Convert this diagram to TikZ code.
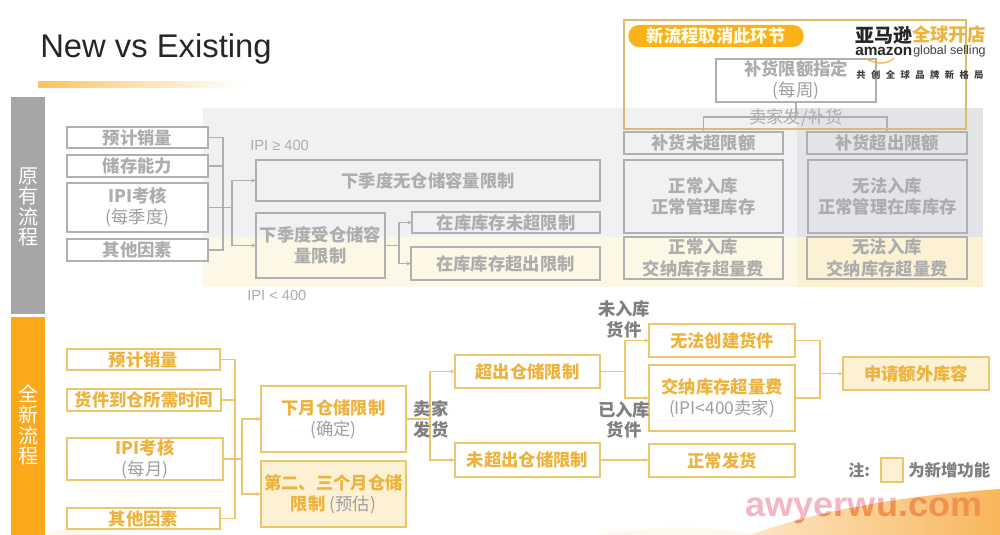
\documentclass[tikz,border=0pt]{standalone}
\usepackage{fontspec}
\usetikzlibrary{arrows.meta}
\setmainfont{Noto Sans CJK SC}
\newfontfamily\latinfont{Liberation Sans}
\definecolor{gtx}{HTML}{ADADAD}
\definecolor{gln}{HTML}{B0B0B0}
\definecolor{ytx}{HTML}{EDB33C}
\definecolor{yln}{HTML}{EBC66A}
\definecolor{yfl}{HTML}{FDF1D3}
\definecolor{obar}{HTML}{FBA91B}
\definecolor{gbar}{HTML}{A6A6A6}
\definecolor{dtx}{HTML}{7F7F7F}
\definecolor{paren}{HTML}{9F9F9F}
\definecolor{creamy}{HTML}{FDF7E6}
\definecolor{ovg}{HTML}{F0F1F2}
\definecolor{ovd}{HTML}{E3E4E8}
\definecolor{wmpink}{HTML}{F5B5C2}
\definecolor{wmorange}{HTML}{F0924C}
\definecolor{blobl}{HTML}{FDE6C4}
\definecolor{blobr}{HTML}{F8B65A}
\tikzset{
  x=0.75pt,y=-0.75pt,
  boxbase/.style={draw,line width=1pt,inner sep=0pt,outer sep=0pt,align=center,
    font=\fontsize{13}{16}\selectfont\bfseries},
  gbox/.style={boxbase,draw=gln,text=gtx},
  ybox/.style={boxbase,draw=yln,text=ytx},
  yfbox/.style={ybox,fill=yfl},
  glabel/.style={inner sep=0pt,font=\fontsize{13}{15.5}\selectfont\bfseries,text=dtx,align=center},
  ipilab/.style={inner sep=0pt,font=\latinfont\fontsize{11}{13}\selectfont,text=gtx},
  sidetx/.style={inner sep=0pt,text=white,align=center,font=\fontsize{15}{15.4}\selectfont},
  gline/.style={draw=gln,line width=0.9pt},
  yline/.style={draw=yln,line width=1.1pt},
  garrow/.style={gline,-{Stealth[length=3.5pt,width=3pt]}},
  yarrow/.style={yline,-{Stealth[length=3.5pt,width=3pt]}},
  wmark/.style={inner sep=0pt,anchor=base,font=\fontsize{26}{28}\selectfont\latinfont\bfseries,xscale=1.04},
}
\newcommand{\bx}[7]{\node[#1,minimum width={(#5-#3)*0.75pt},minimum height={(#6-#4)*0.75pt}] (#2) at ({(#3+#5)/2},{(#4+#6)/2}) {#7};}
\newcommand{\pn}[1]{{\mdseries\color{paren}#1}}
\begin{document}
\begin{tikzpicture}
\useasboundingbox (0,0) rectangle (1000,535);
% backgrounds
\fill[white] (0,0) rectangle (1000,535);
\shade[left color=creamy,right color=white] (45,535) .. controls (70,522) and (100,528) .. (140,535) -- cycle;
\fill[creamy!70!white] (600,535) .. controls (640,527) and (700,524) .. (760,535) -- cycle;
\fill[ovg] (203,108) rectangle (983,237);
\fill[ovd] (797,108) rectangle (983,237);
\fill[creamy] (203,237) rectangle (983,287);
\fill[yfl] (797,237) rectangle (983,287);
% title
\node[inner sep=0pt,anchor=base west,font=\latinfont\fontsize{24.6}{30}\selectfont,text=black!85] (title) at (40,58) {New vs Existing};
\shade[left color=obar!70!white,right color=white] (38,82) rectangle (242,88);
% side bars
\bx{draw=none,fill=gbar,inner sep=0pt}{sg}{11}{97}{45}{314}{}
\bx{draw=none,fill=obar,inner sep=0pt}{so}{11}{317}{45}{535}{}
\node[sidetx] (sgt) at (28,207) {原\\有\\流\\程};
\node[sidetx] (sot) at (28,425) {全\\新\\流\\程};
% upper left
\bx{gbox,fill=white}{a1}{67}{127}{208}{148}{预计销量}
\bx{gbox,fill=white}{a2}{67}{155}{208}{177}{储存能力}
\bx{gbox,fill=white}{a3}{67}{183}{208}{232}{IPI考核\\\pn{(每季度)}}
\bx{gbox,fill=white}{a4}{67}{239}{208}{261}{其他因素}
\bx{gbox}{b1}{256}{160}{600}{201}{下季度无仓储容量限制}
\bx{gbox}{b2}{256}{213}{385}{278}{下季度受仓储容\\量限制}
\bx{gbox}{c1}{412}{212}{600}{233}{在库库存未超限制}
\bx{gbox}{c2}{411}{247}{600}{280}{在库库存超出限制}
\node[ipilab,anchor=west] (ipi1) at (250,145) {IPI ≥ 400};
\node[ipilab,anchor=west] (ipi2) at (247,295) {IPI < 400};
\coordinate (bus1) at (223,207.5);
\coordinate (fork1) at (232,207.5);
\coordinate (fork2) at (399,245.5);
\draw[gline] (a1.east) -| (bus1) (a2.east) -| (bus1) (a4.east) -| (bus1);
\draw[gline] (a3.east) -- (fork1);
\draw[garrow] (fork1) |- (b1.west);
\draw[garrow] (fork1) |- (b2.west);
\draw[gline] (b2.east) -- (fork2);
\draw[garrow] (fork2) |- (c1.west);
\draw[garrow] (fork2) |- (c2.west);
% upper right
\bx{gbox,fill=white}{r0}{716}{59}{876}{102}{补货限额指定\\\pn{(每周)}}
\bx{gbox}{r1}{624}{132}{783}{154}{补货未超限额}
\bx{gbox}{r2}{807}{132}{967}{154}{补货超出限额}
\bx{gbox}{r3}{624}{160}{783}{233}{正常入库\\正常管理库存}
\bx{gbox}{r4}{808}{160}{967}{233}{无法入库\\正常管理在库库存}
\bx{gbox}{r5}{624}{237}{783}{279}{正常入库\\交纳库存超量费}
\bx{gbox}{r6}{807}{237}{967}{279}{无法入库\\交纳库存超量费}
\coordinate (rf) at (796,117);
\draw[gline] (r0.south) -- (rf);
\draw[gline] (rf) -| (r1.north);
\draw[gline] (rf) -| (r2.north);
\node[inner sep=0pt,font=\fontsize{13}{15}\selectfont,text=gtx] (seller) at (796,118) {卖家发/补货};
% frame and logo
\bx{draw=yln!85!gray,line width=1pt,inner sep=0pt}{frame}{624}{20}{966}{129}{}
\node[fill=obar!90!yellow,rounded corners=8pt,minimum width=131.5pt,minimum height=16.5pt,inner sep=0pt,text=white!92!yellow,font=\fontsize{13}{15}\selectfont\bfseries] (pill) at (716,36) {新流程取消此环节};
\node[inner sep=0pt,anchor=west,font=\fontsize{14.2}{16}\selectfont\bfseries,text=black!85] (lg1) at (855,35) {亚马逊};
\node[inner sep=0pt,anchor=west,font=\fontsize{13.7}{16}\selectfont\bfseries,text=ytx] (lg2) at (912,35) {全球开店};
\node[inner sep=0pt,anchor=west,font=\latinfont\fontsize{11.5}{13}\selectfont\bfseries,text=black!85] (lg3) at (855,51) {amazon};
\node[inner sep=0pt,anchor=west,font=\latinfont\fontsize{9.4}{13}\selectfont,text=black!75] (lg4) at (913,51) {global selling};
\draw[ytx,line width=0.9pt] (866,59) .. controls (878,65) and (888,64) .. (894,58);
\node[inner sep=0pt,anchor=west,font=\fontsize{7}{9}\selectfont\bfseries\addfontfeature{LetterSpace=58},text=black!75] (lg5) at (856,75) {共创全球品牌新格局};
% lower left
\bx{ybox}{d1}{67}{349}{220}{370}{预计销量}
\bx{ybox}{d2}{67}{389}{221}{411}{货件到仓所需时间}
\bx{ybox}{d3}{67}{438}{223}{480}{IPI考核\\\pn{(每月)}}
\bx{ybox}{d4}{67}{508}{220}{529}{其他因素}
\bx{ybox}{e1}{261}{386}{406}{452}{下月仓储限制\\\pn{(确定)}}
\bx{yfbox}{e2}{261}{461}{406}{527}{第二、三个月仓储\\限制 \pn{(预估)}}
\coordinate (bus2) at (235,459);
\coordinate (fork3) at (242,459);
\coordinate (fork4) at (430,419);
\draw[yline] (d1.east) -| (bus2) (d2.east) -| (bus2) (d4.east) -| (bus2);
\draw[yline] (d3.east) -- (fork3);
\draw[yarrow] (fork3) |- (e1.west);
\draw[yarrow] (fork3) |- (e2.west);
\draw[yline] (e1.east) -- (fork4);
% lower right
\bx{ybox}{f1}{455}{355}{600}{388}{超出仓储限制}
\bx{ybox}{f2}{455}{443}{600}{477}{未超出仓储限制}
\bx{ybox}{g1}{649}{324}{795}{357}{无法创建货件}
\bx{ybox}{g2}{649}{365}{795}{431}{交纳库存超量费\\\pn{(IPI<400卖家)}}
\bx{ybox}{g3}{649}{444}{795}{477}{正常发货}
\bx{yfbox}{h1}{843}{357}{989}{390}{申请额外库容}
\coordinate (fork5) at (625,371.5);
\coordinate (fork6) at (820,373.5);
\draw[yarrow] (fork4) |- (f1.west);
\draw[yarrow] (fork4) |- (f2.west);
\draw[yline] (f1.east) -- (fork5);
\coordinate (g2in) at (649,398);
\coordinate (g2out) at (795,398);
\draw[yarrow] (fork5) |- (g1.west);
\draw[yarrow] (fork5) |- (g2in);
\coordinate (g3in) at (649,460);
\draw[yarrow] (f2.east) -- (g3in);
\draw[yline] (g1.east) -| (fork6);
\draw[yline] (g2out) -| (fork6);
\draw[yarrow] (fork6) -- (h1.west);
\node[glabel] (l1) at (431,419.5) {卖家\\发货};
\node[glabel] (l2) at (624,319.5) {未入库\\货件};
\node[glabel] (l3) at (624,420) {已入库\\货件};
% legend
\node[inner sep=0pt,anchor=west,font=\fontsize{12}{14}\selectfont\bfseries,text=dtx] (nt) at (848,470) {注:};
\bx{draw=yln,fill=yfl,line width=1pt,inner sep=0pt}{sw}{881}{458}{903}{482}{}
\node[inner sep=0pt,anchor=west,font=\fontsize{12.3}{14}\selectfont\bfseries,text=dtx] (nt2) at (908,470) {为新增功能};
% corner and watermark
\shade[left color=blobl,right color=blobr] (750,535) .. controls (820,510) and (900,496) .. (1000,489) -- (1000,535) -- cycle;
\node[wmark,text=wmpink] (wm) at (864,516) {awyerwu.com};
\begin{scope}
\clip (750,535) .. controls (820,510) and (900,496) .. (1000,489) -- (1000,535) -- cycle;
\node[wmark,text=wmorange] (wm2) at (864,516) {awyerwu.com};
\end{scope}
\end{tikzpicture}
\end{document}
